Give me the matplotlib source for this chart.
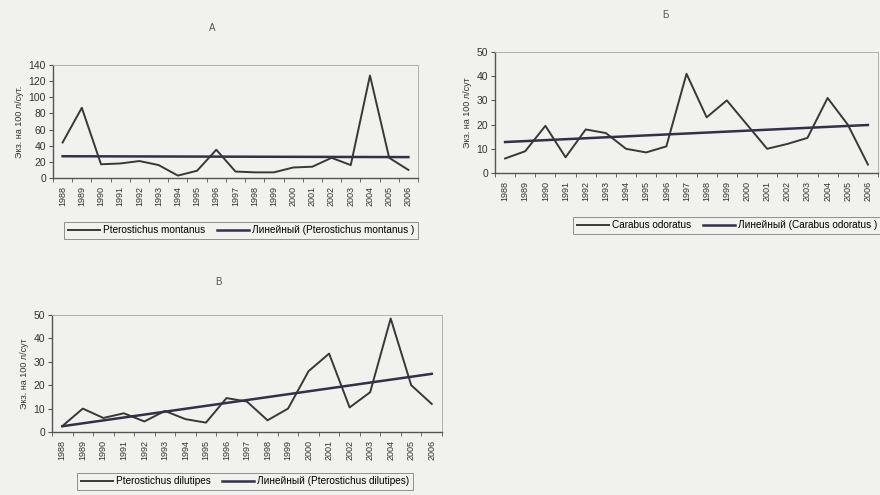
import numpy as np
import matplotlib
matplotlib.use('Agg')
import matplotlib.pyplot as plt

plt.rcParams['font.family'] = ['Liberation Sans', 'DejaVu Sans']

years = [str(y) for y in range(1988, 2007)]

# Pterostichus montanus
montanus = [44, 87, 17, 18, 21, 16, 3, 9, 35, 8, 7, 7, 13, 14, 25, 16, 127, 25, 10]
# Carabus odoratus
odoratus = [6, 9, 19.5, 6.5, 18, 16.5, 10, 8.5, 11, 41, 23, 30, 20, 10, 12, 14.5, 31, 20, 3.5]
# Pterostichus dilutipes
dilutipes = [2.5, 10, 6, 8, 4.5, 9, 5.5, 4, 14.5, 13, 5, 10, 26, 33.5, 10.5, 17, 48.5, 20, 12]

W, H = 880, 495
bg = '#f1f1ee'
line_col = '#383838'
trend_col = '#35304a'

fig = plt.figure(figsize=(W / 100, H / 100), dpi=100, facecolor=bg)


def box(x0, y0, x1, y1):
    # pixel box -> figure fraction
    return [x0 / W, 1 - y1 / H, (x1 - x0) / W, (y1 - y0) / H]


def panel(rect, data, ymax, ystep, name, ylabel, title, title_xy, leg_xy, trend_name):
    ax = fig.add_axes(box(*rect))
    ax.set_facecolor(bg)
    x = np.arange(len(years))
    k, b = np.polyfit(x, data, 1)
    l1, = ax.plot(x, data, color=line_col, lw=1.4)
    l2, = ax.plot(x, k * x + b, color=trend_col, lw=1.8)
    ax.set_xlim(-0.5, len(years) - 0.5)
    ax.set_ylim(0, ymax)
    ax.set_yticks(np.arange(0, ymax + 1, ystep))
    ax.set_xticks(x)
    ax.set_xticklabels(years, rotation=90, fontsize=6.5, color='#333333')
    ax.set_xticks(np.arange(-0.5, len(years), 1), minor=True)
    ax.tick_params(axis='x', which='major', length=0, pad=6)
    ax.tick_params(axis='x', which='minor', length=3, color='#555555')
    ax.tick_params(axis='y', labelsize=7.5, length=3, color='#555555', labelcolor='#333333', pad=2)
    for s in ['top', 'right']:
        ax.spines[s].set_color('#b0b0b0')
        ax.spines[s].set_linewidth(0.7)
    for s in ['left', 'bottom']:
        ax.spines[s].set_color('#555555')
        ax.spines[s].set_linewidth(1.0)
    ax.set_ylabel(ylabel, fontsize=6.5, color='#333333', labelpad=3)
    fig.text(title_xy[0] / W, 1 - title_xy[1] / H, title, fontsize=7,
             color='#555555', ha='center', va='center')
    leg = fig.legend([l1, l2], [name, trend_name], loc='center',
                     bbox_to_anchor=(leg_xy[0] / W, 1 - leg_xy[1] / H),
                     ncol=2, fontsize=7.2, frameon=True, fancybox=False,
                     handlelength=3.2, handletextpad=0.3, columnspacing=1.2,
                     borderpad=0.35, facecolor=bg, edgecolor='#777777')
    leg.get_frame().set_linewidth(0.7)
    return ax


panel((53, 65, 418, 178), montanus, 140, 20, 'Pterostichus montanus',
      'Экз. на 100 л/сут.', 'A', (212, 28), (241, 230),
      'Линейный (Pterostichus montanus )')
panel((495, 52, 878, 173), odoratus, 50, 10, 'Carabus odoratus',
      'Экз. на 100 л/сут', 'Б', (665, 15), (727, 225),
      'Линейный (Carabus odoratus )')
panel((52, 315, 442, 432), dilutipes, 50, 10, 'Pterostichus dilutipes',
      'Экз. на 100 л/сут', 'В', (218, 282), (245, 481),
      'Линейный (Pterostichus dilutipes)')

fig.savefig('out.png', dpi=100, facecolor=bg)
